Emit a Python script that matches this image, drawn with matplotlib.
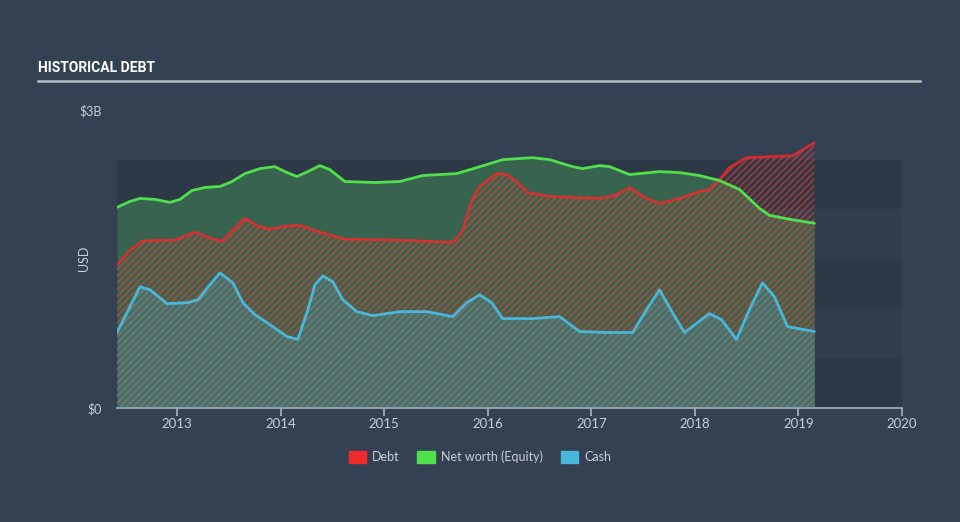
import matplotlib
matplotlib.use("Agg")
import matplotlib.pyplot as plt
from matplotlib.patches import Patch

# ---- data (USD billions, x in decimal years) ----
debt_x = [2012.421, 2012.547, 2012.662, 2012.836, 2012.981, 2013.174, 2013.318, 2013.434,
          2013.559, 2013.656, 2013.781, 2013.897, 2014.042, 2014.186, 2014.379, 2014.621,
          2015.151, 2015.633, 2015.682, 2015.759, 2015.846, 2015.923, 2016.087, 2016.183,
          2016.280, 2016.386, 2016.598, 2017.080, 2017.225, 2017.370, 2017.514, 2017.659,
          2017.852, 2018.045, 2018.141, 2018.238, 2018.334, 2018.498, 2018.720, 2018.942,
          2019.009, 2019.154]
debt_y = [1.44, 1.59, 1.68, 1.69, 1.69, 1.77, 1.71, 1.68,
          1.81, 1.91, 1.83, 1.80, 1.83, 1.84, 1.77, 1.70,
          1.69, 1.67, 1.68, 1.79, 2.09, 2.23, 2.36, 2.35,
          2.28, 2.17, 2.13, 2.11, 2.14, 2.22, 2.12, 2.06,
          2.11, 2.18, 2.20, 2.30, 2.42, 2.52, 2.53, 2.54,
          2.58, 2.67]

equity_x = [2012.421, 2012.547, 2012.643, 2012.788, 2012.932, 2013.029, 2013.145, 2013.270,
            2013.415, 2013.531, 2013.656, 2013.801, 2013.945, 2014.042, 2014.158, 2014.264,
            2014.379, 2014.476, 2014.621, 2014.910, 2015.151, 2015.373, 2015.701, 2015.894,
            2016.145, 2016.434, 2016.598, 2016.820, 2016.916, 2017.080, 2017.177, 2017.370,
            2017.659, 2017.852, 2018.045, 2018.238, 2018.431, 2018.624, 2018.720, 2018.913,
            2019.154]
equity_y = [2.02, 2.08, 2.11, 2.10, 2.07, 2.10, 2.19, 2.22,
            2.23, 2.28, 2.36, 2.41, 2.43, 2.38, 2.33, 2.38,
            2.44, 2.40, 2.28, 2.27, 2.28, 2.34, 2.36, 2.42,
            2.50, 2.52, 2.50, 2.43, 2.41, 2.44, 2.43, 2.35,
            2.38, 2.37, 2.34, 2.29, 2.20, 2.01, 1.94, 1.90,
            1.86]

cash_x = [2012.421, 2012.643, 2012.740, 2012.904, 2013.096, 2013.203, 2013.318, 2013.415,
          2013.540, 2013.637, 2013.752, 2013.868, 2014.061, 2014.167, 2014.264, 2014.331,
          2014.408, 2014.505, 2014.601, 2014.736, 2014.891, 2015.151, 2015.412, 2015.662,
          2015.797, 2015.923, 2016.039, 2016.145, 2016.434, 2016.694, 2016.887, 2017.148,
          2017.399, 2017.534, 2017.659, 2017.784, 2017.900, 2018.141, 2018.257, 2018.402,
          2018.527, 2018.653, 2018.768, 2018.894, 2019.154]
cash_y = [0.76, 1.22, 1.19, 1.05, 1.06, 1.09, 1.24, 1.36,
          1.26, 1.06, 0.94, 0.86, 0.72, 0.69, 0.99, 1.24,
          1.33, 1.27, 1.09, 0.97, 0.93, 0.97, 0.97, 0.92,
          1.06, 1.14, 1.06, 0.90, 0.90, 0.92, 0.77, 0.76,
          0.76, 0.99, 1.19, 0.96, 0.76, 0.95, 0.89, 0.69,
          0.99, 1.26, 1.12, 0.82, 0.77]

year_ticks = [2013, 2014, 2015, 2016, 2017, 2018, 2019, 2020]
y_ticks = [0, 3]
y_tick_labels = ["$0", "$3B"]
legend_labels = ["Debt", "Net worth (Equity)", "Cash"]

# ---- style ----
BG = "#344152"
BAND_DARK = "#2d3947"
BAND_LIGHT = "#323e4e"
TXT = "#c9ced5"
RED = "#f0292b"
GREEN = "#4fe04c"
BLUE = "#48b7da"
FONT = ["Lato", "DejaVu Sans"]

plt.rcParams["font.family"] = FONT
plt.rcParams["hatch.linewidth"] = 1.3

fig = plt.figure(figsize=(9.6, 5.22), dpi=100, facecolor=BG)
ax = fig.add_axes([117 / 960, 114 / 522, 785 / 960, 298 / 522])
ax.set_facecolor("none")

xmin, xmax = 2012.421, 2020.0
ax.set_xlim(xmin, xmax)
ax.set_ylim(0, 3)

# bands
for i in range(5):
    ax.axhspan(i * 0.5, (i + 1) * 0.5, color=BAND_DARK if i % 2 == 0 else BAND_LIGHT,
               lw=0, zorder=0)

# equity fill
ax.fill_between(equity_x, 0, equity_y, color="#38634f", lw=0, zorder=1)
# debt hatch
ax.fill_between(debt_x, 0, debt_y, facecolor="none", edgecolor=(0.94, 0.25, 0.2, 0.55),
                hatch="/////", lw=0, zorder=2)
# cash overlay
ax.fill_between(cash_x, 0, cash_y, color=BLUE, alpha=0.2, lw=0, zorder=3)
ax.fill_between(cash_x, 0, cash_y, facecolor="none", edgecolor=(0.35, 0.55, 0.55, 0.35),
                hatch="/////", lw=0, zorder=3)

ax.plot(debt_x, debt_y, color=RED, lw=2, alpha=0.8, zorder=5,
        solid_capstyle="round", solid_joinstyle="round")
ax.plot(equity_x, equity_y, color=GREEN, lw=2, zorder=6,
        solid_capstyle="round", solid_joinstyle="round")
ax.plot(cash_x, cash_y, color=BLUE, lw=2, zorder=7,
        solid_capstyle="round", solid_joinstyle="round")

for s in ["top", "right", "left"]:
    ax.spines[s].set_visible(False)
ax.spines["bottom"].set_color("#a9b3bf")
ax.spines["bottom"].set_linewidth(1.2)

ax.set_xticks(year_ticks)
ax.set_xticklabels([str(y) for y in year_ticks])
ax.tick_params(axis="x", colors="#a9b3bf", labelcolor=TXT, length=6, width=1.2,
               labelsize=9.5, pad=1)
ax.set_yticks(y_ticks)
ax.set_yticklabels(y_tick_labels)
ax.tick_params(axis="y", length=0, labelcolor=TXT, labelsize=9, pad=11)
fig.text(84 / 960, 1 - 258 / 522, "USD", color=TXT, fontsize=9, rotation=90,
         ha="center", va="center")

# title and rule
fig.text(38 / 960, 1 - 68 / 522, "HISTORICAL DEBT", color="white", fontsize=10,
         fontweight="bold", va="center", ha="left", family=["Roboto", "DejaVu Sans"])
fig.add_artist(plt.Line2D([38 / 960, 920 / 960], [1 - 81 / 522, 1 - 81 / 522],
                          color="#b8bec6", lw=1.8, transform=fig.transFigure))

handles = [Patch(color=c) for c in [RED, GREEN, BLUE]]
fig.legend(handles, legend_labels, loc="center", bbox_to_anchor=(0.5, 1 - 457 / 522),
           ncol=3, frameon=False, fontsize=9, labelcolor=TXT, handlelength=1.4,
           handleheight=1.0, columnspacing=1.4, handletextpad=0.5)

fig.savefig("out.png", dpi=100, facecolor=BG)
